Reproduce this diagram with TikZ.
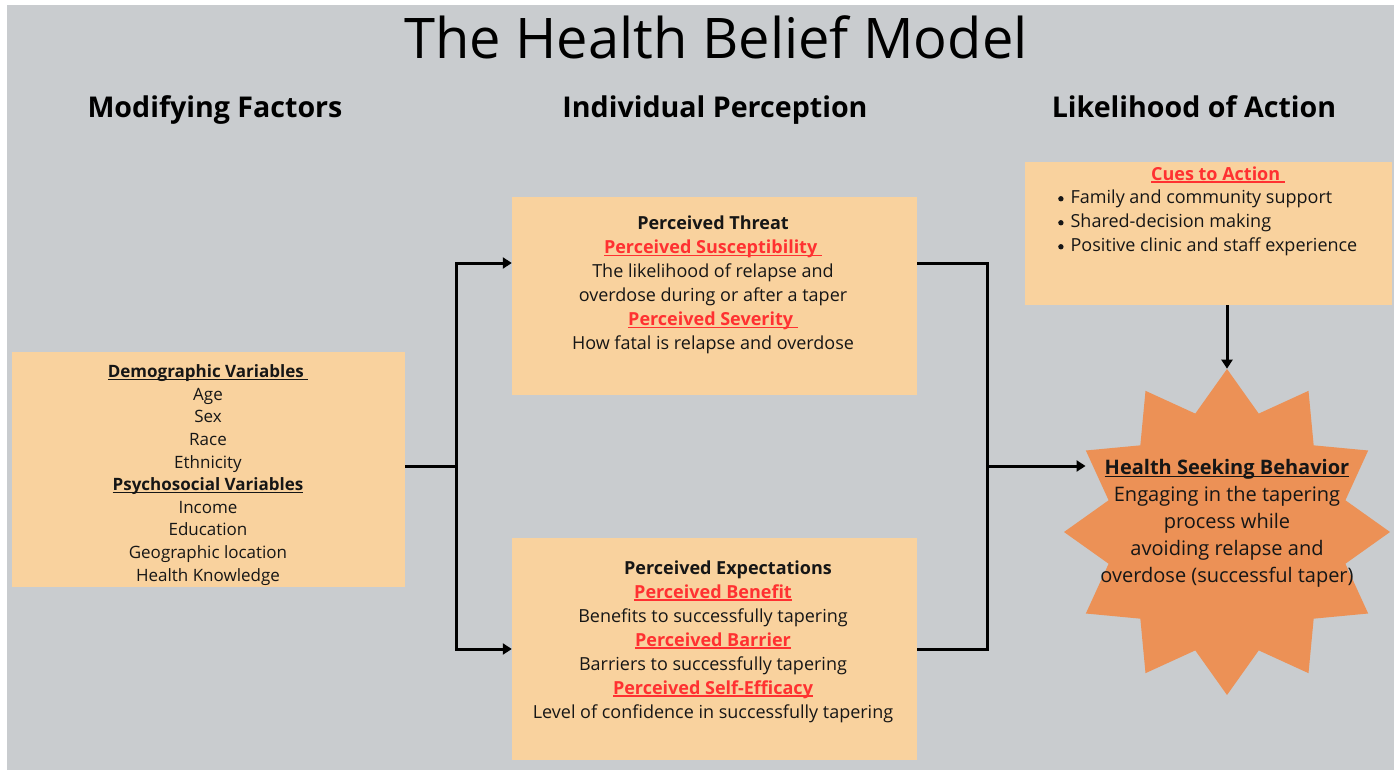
\documentclass[tikz,border=0pt]{standalone}
\usepackage{fontspec}
\setmainfont{Open Sans}
\usepackage{tikz}
\usetikzlibrary{arrows.meta,positioning,shapes.geometric}
\definecolor{panelgray}{HTML}{C9CCCF}
\definecolor{peach}{HTML}{F9D29E}
\definecolor{burstor}{HTML}{EC9156}
\definecolor{cuered}{HTML}{FF3131}
\definecolor{ink}{HTML}{161616}
\tikzset{
  box/.style     = {fill=peach, draw=none, inner sep=0pt},
  txt/.style     = {align=center, inner sep=0pt, text=ink,
                    font=\fontsize{18}{24}\selectfont},
  colhead/.style = {anchor=base, inner sep=0pt, text=black,
                    font=\fontsize{28.6}{32}\selectfont\bfseries},
  ln/.style      = {draw=black, line width=3pt},
  arr/.style     = {ln, -{Triangle[length=9pt,width=11pt]}},
  burst/.style   = {star, star points=12, star point ratio=1.33,
                    fill=burstor, draw=none, inner sep=0pt},
}
\newcommand{\ulbox}[1]{%          % #1 = text, ruled under its full width
  \setbox0\hbox{#1}\rlap{\rule[-2.6pt]{\wd0}{1.3pt}}\box0}
\newcommand{\redhead}[1]{\textcolor{cuered}{\bfseries\ulbox{#1}}}
\newcommand{\blkhead}[1]{{\bfseries\ulbox{#1}}}
\newcommand{\bul}{\raisebox{2.2pt}{\tikz\fill (0,0) circle (2.7pt);}\hspace{7pt}}

\begin{document}
\begin{tikzpicture}[x=1pt,y=-1pt]
  \useasboundingbox (0,0) rectangle (1400,773);
  \fill[white] (0,0) rectangle (1400,773);
  \fill[panelgray] (7,5) rectangle (1394,770);

  % title and column heads
  \node[anchor=base, inner sep=0pt, font=\fontsize{56}{60}\selectfont]
    (title) at (716,59) {The Health Belief Model};
  \node[colhead] (hmod) at (215,118) {Modifying Factors};
  \node[colhead] (hper) at (715,118) {Individual Perception};
  \node[colhead] (hact) at (1194,118) {Likelihood of Action};

  % boxes
  \node[box, minimum width=393pt, minimum height=235pt] (mod)    at (208.5,469.5) {};
  \node[box, minimum width=405pt, minimum height=198pt] (threat) at (714.5,296) {};
  \node[box, minimum width=405pt, minimum height=222pt] (expect) at (714.5,649) {};
  \node[box, minimum width=367pt, minimum height=143pt] (cues)   at (1208.5,233.5) {};
  \node[burst, minimum size=326pt] (hsb) at (1227,532) {};

  % box texts
  \node[txt, font=\fontsize{17}{22.6}\selectfont] (modtxt) at (208,475) {%
    \blkhead{Demographic Variables\ }\\ Age\\ Sex\\ Race\\ Ethnicity\\
    \blkhead{Psychosocial Variables}\\ Income\\ Education\\
    Geographic location\\ Health Knowledge};
  \node[txt] (threattxt) at (713,285) {%
    \textbf{Perceived Threat}\\
    \redhead{Perceived Susceptibility\ }\\
    The likelihood of relapse and\\ overdose during or after a taper\\
    \redhead{Perceived Severity\ }\\
    How fatal is relapse and overdose};
  \node[txt] (expecttxt) at (713,641.5) {%
    \hspace*{30pt}\textbf{Perceived Expectations}\\
    \redhead{Perceived Benefit}\\ Benefits to successfully tapering\\
    \redhead{Perceived Barrier}\\ Barriers to successfully tapering\\
    \redhead{Perceived Self-Efficacy}\\
    Level of confidence in successfully tapering};
  \node[txt, anchor=base] (cuestitle) at (1218,180) {\redhead{Cues to Action\ }};
  \node[txt, align=left, anchor=west] (cueslist) at (1058,223) {%
    \bul Family and community support\\
    \bul Shared-decision making\\
    \bul Positive clinic and staff experience};
  \node[txt, font=\fontsize{20}{27}\selectfont] (hsbtxt) at (1227,523.5) {%
    \blkhead{Health Seeking Behavior}\\ Engaging in the tapering\\
    process while\\ avoiding relapse and\\ overdose (successful taper)};

  % connectors
  \coordinate (jl) at (456,466);
  \coordinate (jr) at (987,466);
  \draw[ln] (mod.east |- jl) -- (jl);
  \draw[arr] (jl) |- ([yshift=33pt]threat.west);
  \draw[arr] (jl) |- (expect.west);
  \draw[ln] ([yshift=33pt]threat.east) -| (jr);
  \draw[ln] (expect.east) -| (jr);
  \draw[arr] (jr) -- (jr -| hsb.outer point 3);
  \draw[arr] (hsb.outer point 1 |- cues.south) -- (hsb.outer point 1);
\end{tikzpicture}
\end{document}
